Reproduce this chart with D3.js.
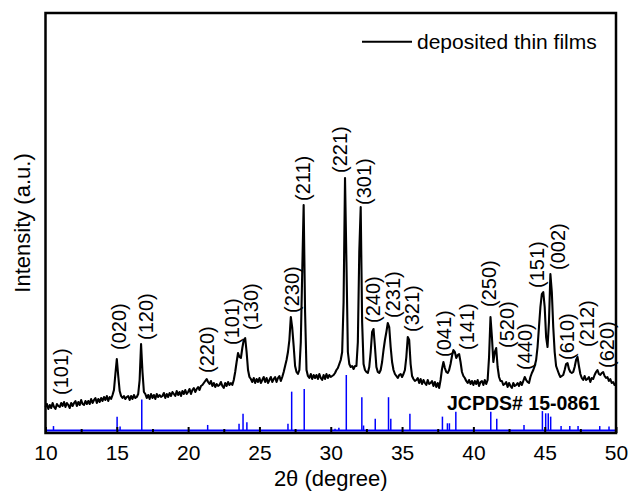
<!DOCTYPE html>
<html>
<head>
<meta charset="utf-8">
<script src="https://cdn.jsdelivr.net/npm/d3@7/dist/d3.min.js"></script>
<style>
  html, body { margin: 0; padding: 0; background: #fff; }
  svg { display: block; }
</style>
</head>
<body>
<svg id="chart" width="630" height="493"></svg>
<script>
// ---------------- DATA ----------------
// XRD pattern of the deposited thin films, sampled every 0.1 degree from 10 to 50 (2θ)
const twoThetaStart = 10;
const twoThetaStep = 0.1;
const filmIntensity = [
  25,28,23,27,24,29,25,23,28,26,
  25,29,26,30,25,29,27,24,29,26,
  29,31,26,30,27,32,28,27,31,28,
  31,28,33,29,32,34,29,33,30,34,
  31,35,32,36,31,35,33,37,42,58,
  73,56,41,36,34,36,33,35,36,32,
  36,33,37,34,35,38,52,88,60,40,
  38,34,37,33,38,34,37,33,38,35,
  37,35,36,39,34,38,35,39,36,40,
  38,36,41,37,40,36,41,38,42,38,
  40,43,38,42,44,40,43,45,42,46,
  47,49,51,53,50,48,51,46,49,45,
  48,46,47,50,46,44,49,46,50,47,
  49,47,52,60,70,79,75,74,84,92,
  94,80,62,55,53,50,54,49,53,50,
  54,49,52,55,50,54,49,52,55,50,
  53,55,50,54,56,51,55,60,66,72,
  80,92,115,104,86,66,60,58,62,90,
  160,227,120,62,56,54,58,53,57,54,
  57,53,58,54,52,57,53,58,54,57,
  55,56,57,59,62,64,68,72,80,130,
  254,170,80,68,65,66,63,66,66,90,
  180,225,110,68,62,60,59,65,80,100,
  103,85,65,60,59,62,70,82,92,100,
  109,105,85,70,62,58,56,54,57,58,
  55,58,62,75,95,92,68,56,53,51,
  52,54,49,53,48,52,49,47,52,48,
  49,51,46,50,45,49,44,52,63,70,
  64,60,59,62,68,76,82,80,74,77,
  78,70,60,56,54,51,49,52,48,51,
  47,51,48,52,46,50,51,47,52,48,
  52,75,115,95,70,80,84,65,55,51,
  51,47,48,50,45,49,46,44,49,46,
  47,49,46,50,47,51,55,52,50,49,
  55,59,62,66,72,85,105,125,138,140,
  125,95,85,110,158,140,105,80,66,62,
  58,55,56,57,62,68,69,63,60,59,
  60,65,72,75,66,58,54,52,56,52,
  53,55,50,54,53,57,60,62,58,57,
  59,60,56,54,55,51,53,49,50,47,
  47
];

// JCPDS# 15-0861 reference lines: position (2θ) and relative intensity (%)
const refPositions = [10.56,15.02,15.23,16.75,21.37,23.57,23.85,24.12,27.0,27.26,28.14,30.3,30.57,31.09,32.18,32.3,33.12,34.05,34.21,35.55,37.83,38.18,38.32,38.77,41.22,41.64,43.55,44.84,45.07,45.25,45.42,46.15,46.76,47.34,48.86,49.51];
const refIntensity = [8,25,7,56,10,12,30,15,12,70,75,3,5,100,60,9,21,60,21,30,25,13,13,34,34,21,10,35,31,31,25,8,8,8,8,7];

// Peak (hkl) annotations: label, 2θ of label, intensity level of label bottom
const peakLabels = ["(101)","(020)","(120)","(220)","(101)","(130)","(230)","(211)","(221)","(301)","(240)","(231)","(321)","(041)","(141)","(250)","(520)","(440)","(151)","(002)","(610)","(212)","(620)"];
const peakLabelX = [11.09,15.15,17.05,21.34,23.06,24.41,27.26,28.02,30.65,32.33,32.98,34.39,35.68,37.96,39.53,41.12,42.34,43.62,44.44,45.95,46.59,47.95,49.35];
const peakLabelY = [37,82,92,59,87,102,119,231,259,227,109,114,100,75,82,125,84,62,144,162,72,85,64];

const majorTicks = [10,15,20,25,30,35,40,45,50];
const minorTicks = [12.5,17.5,22.5,27.5,32.5,37.5,42.5,47.5];

const xTitle = "2θ (degree)";
const yTitle = "Intensity (a.u.)";
const legendLabel = "deposited thin films";
const refLabel = "JCPDS# 15-0861";

// ---------------- CHART ----------------
const FONT = "Arial, 'Liberation Sans', Helvetica, sans-serif";
const svg = d3.select("#chart");
const L = 45.5, R = 616, T = 13, B = 433;

const x = d3.scaleLinear().domain([10, 50]).range([L, R]);
const y = d3.scaleLinear().domain([0, 420]).range([432, 12]);
const yRef = d3.scaleLinear().domain([0, 100]).range([430.5, 375]);

const film = filmIntensity.map((v, i) => [twoThetaStart + i * twoThetaStep, v]);

// reference baseline and sticks
svg.append("line")
  .attr("x1", x(10)).attr("x2", x(50))
  .attr("y1", yRef(0)).attr("y2", yRef(0))
  .attr("stroke", "#0000ff").attr("stroke-width", 2);

svg.append("g").selectAll("line")
  .data(refPositions.map((p, i) => [p, refIntensity[i]]))
  .join("line")
  .attr("x1", d => x(d[0])).attr("x2", d => x(d[0]))
  .attr("y1", yRef(0)).attr("y2", d => yRef(d[1]))
  .attr("stroke", "#0000ff").attr("stroke-width", 1.5);

// film curve
svg.append("path")
  .datum(film)
  .attr("fill", "none")
  .attr("stroke", "#000")
  .attr("stroke-width", 2.1)
  .attr("stroke-linejoin", "round")
  .attr("d", d3.line().x(d => x(d[0])).y(d => y(d[1])));

// peak labels
svg.append("g").selectAll("text")
  .data(peakLabels.map((t, i) => [t, peakLabelX[i], peakLabelY[i]]))
  .join("text")
  .attr("transform", d => `translate(${x(d[1])},${y(d[2])}) rotate(-90)`)
  .attr("dy", "0.35em")
  .attr("font-family", FONT)
  .attr("font-size", 20)
  .attr("fill", "#000")
  .text(d => d[0]);

// JCPDS label
svg.append("text")
  .attr("x", 447).attr("y", 410)
  .attr("font-family", FONT).attr("font-size", 19.5).attr("font-weight", "bold")
  .text(refLabel);

// axes
const major = d3.axisBottom(x).tickValues(majorTicks).tickSize(-6).tickPadding(12).tickFormat(d3.format("d"));
const gx = svg.append("g").attr("transform", `translate(0,${B})`).call(major);
gx.select(".domain").remove();
gx.selectAll(".tick line").attr("stroke", "#000").attr("stroke-width", 2);
gx.selectAll(".tick text").attr("font-family", FONT).attr("font-size", 21).attr("fill", "#000");

const minor = d3.axisBottom(x).tickValues(minorTicks).tickSize(-4).tickFormat("");
const gm = svg.append("g").attr("transform", `translate(0,${B})`).call(minor);
gm.select(".domain").remove();
gm.selectAll(".tick line").attr("stroke", "#000").attr("stroke-width", 2);

// frame
svg.append("rect")
  .attr("x", L).attr("y", T).attr("width", R - L).attr("height", B - T)
  .attr("fill", "none").attr("stroke", "#000").attr("stroke-width", 2.5);

// titles
svg.append("text")
  .attr("x", (L + R) / 2).attr("y", 486)
  .attr("text-anchor", "middle")
  .attr("font-family", FONT).attr("font-size", 22)
  .text(xTitle);

svg.append("text")
  .attr("transform", `translate(22,${(T + B) / 2}) rotate(-90)`)
  .attr("text-anchor", "middle").attr("dy", "0.35em")
  .attr("font-family", FONT).attr("font-size", 22)
  .text(yTitle);

// legend
svg.append("line")
  .attr("x1", 362).attr("x2", 412).attr("y1", 41.7).attr("y2", 41.7)
  .attr("stroke", "#000").attr("stroke-width", 2);
svg.append("text")
  .attr("x", 417).attr("y", 41.7).attr("dy", "0.35em")
  .attr("font-family", FONT).attr("font-size", 21)
  .text(legendLabel);
</script>
</body>
</html>
